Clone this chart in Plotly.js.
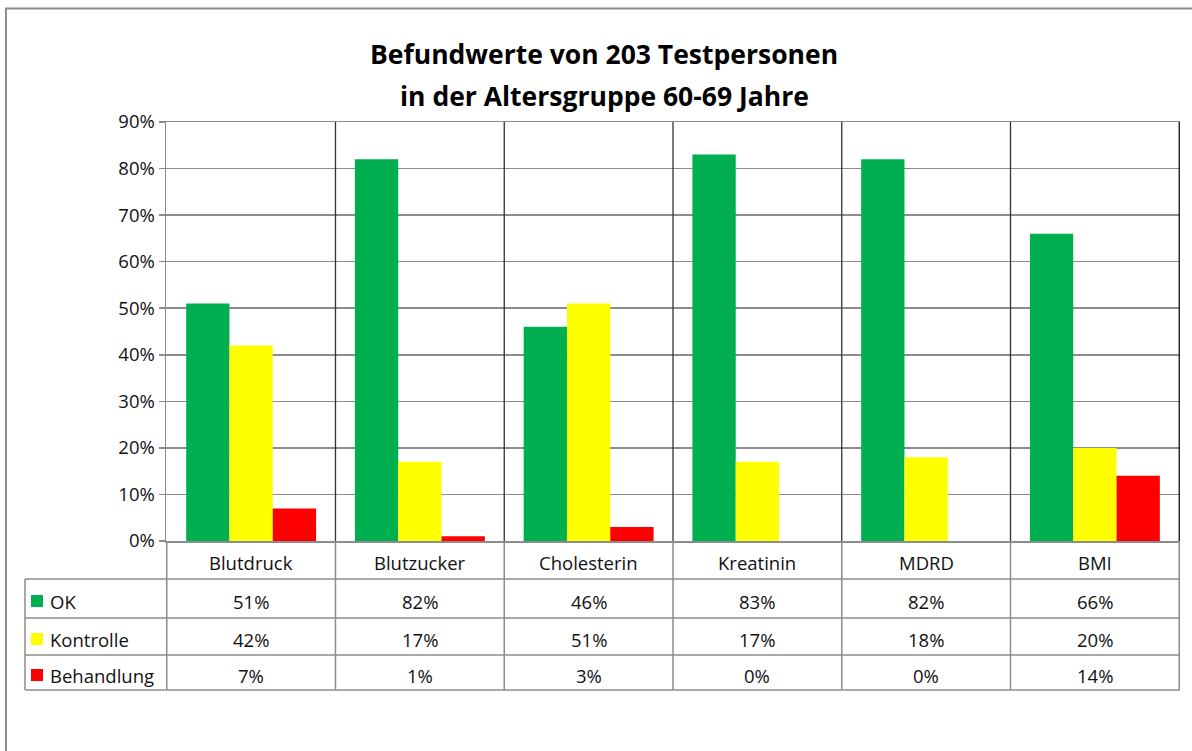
<!DOCTYPE html>
<html>
<head>
<meta charset="utf-8">
<script src="https://cdn.plot.ly/plotly-3.0.1.min.js"></script>
<style>
  html, body { margin: 0; padding: 0; background: #fff; }
  #chart { width: 1192px; height: 751px; }
</style>
</head>
<body>
<div id="chart"></div>
<script>
var categories = ['Blutdruck', 'Blutzucker', 'Cholesterin', 'Kreatinin', 'MDRD', 'BMI'];
var okValues = [51, 82, 46, 83, 82, 66];
var kontrolleValues = [42, 17, 51, 17, 18, 20];
var behandlungValues = [7, 1, 3, 0, 0, 14];
var seriesNames = ['OK', 'Kontrolle', 'Behandlung'];
var seriesColors = ['#00B050', '#FFFF00', '#FF0000'];
var titleLines = ['Befundwerte von 203 Testpersonen', 'in der Altersgruppe 60-69 Jahre'];

var W = 1192, H = 751;
var plotLeft = 166, plotRight = 1180, plotTop = 122, plotBottom = 541;
var gray = '#8c8c8c';
var font = 'Open Sans, Liberation Sans, sans-serif';
var textSize = 18.5;

// pixel -> paper helpers
function px(x) { return (x - plotLeft) / (plotRight - plotLeft); }
function py(y) { return (plotBottom - y) / (plotBottom - plotTop); }

var allValues = [okValues, kontrolleValues, behandlungValues];

var data = allValues.map(function (vals, i) {
    return {
        type: 'bar',
        name: seriesNames[i],
        x: categories,
        y: vals,
        marker: {color: seriesColors[i], line: {width: 0}},
        hoverinfo: 'x+y+name'
    };
});

var shapes = [];
var annotations = [];

// outer chart border (right/bottom edges run off the page)
shapes.push({type: 'rect', xref: 'paper', yref: 'paper',
    x0: px(6), x1: px(1300), y0: py(8.5), y1: py(800),
    line: {color: gray, width: 2}});

// category separators in the plot area
for (var i = 1; i <= categories.length; i++) {
    shapes.push({type: 'line', xref: 'x', yref: 'paper',
        x0: i - 0.5, x1: i - 0.5, y0: 0, y1: 1,
        line: {color: i == categories.length ? '#111' : '#333', width: 1.3}});
}

// data table grid
var rowLines = [579, 618, 655, 690];
for (var i = 0; i <= categories.length; i++) {
    shapes.push({type: 'line', xref: 'x', yref: 'paper',
        x0: i - 0.5, x1: i - 0.5, y0: py(541), y1: py(690),
        line: {color: gray, width: 1.5}});
}
rowLines.forEach(function (y) {
    shapes.push({type: 'line', xref: 'paper', yref: 'paper',
        x0: px(25), x1: 1, y0: py(y), y1: py(y),
        line: {color: gray, width: 1.5}});
});
shapes.push({type: 'line', xref: 'paper', yref: 'paper',
    x0: px(25), x1: px(25), y0: py(579), y1: py(690),
    line: {color: gray, width: 1.5}});

// header row: category names
categories.forEach(function (c) {
    annotations.push({xref: 'x', yref: 'paper', x: c, y: py(562),
        text: c, showarrow: false, xanchor: 'center', yanchor: 'middle',
        font: {family: font, size: textSize, color: '#111'}});
});

// value rows with legend keys
var rowCenters = [601, 639, 675];
allValues.forEach(function (vals, r) {
    var yc = rowCenters[r];
    shapes.push({type: 'rect', xref: 'paper', yref: 'paper',
        x0: px(31), x1: px(43), y0: py(yc - 6), y1: py(yc + 6),
        fillcolor: seriesColors[r], line: {width: 0}});
    annotations.push({xref: 'paper', yref: 'paper', x: px(48), y: py(yc),
        text: seriesNames[r], showarrow: false, xanchor: 'left', yanchor: 'middle',
        font: {family: font, size: textSize, color: '#111'}});
    vals.forEach(function (v, k) {
        annotations.push({xref: 'x', yref: 'paper', x: categories[k], y: py(yc),
            text: v + '%', showarrow: false, xanchor: 'center', yanchor: 'middle',
            font: {family: font, size: textSize, color: '#111'}});
    });
});

// two-line chart title
annotations.push({xref: 'paper', yref: 'paper', x: px(604), y: py(54),
    text: '<b>' + titleLines[0] + '</b>', showarrow: false, xanchor: 'center', yanchor: 'middle',
    font: {family: font, size: 26.5, color: '#000'}});
annotations.push({xref: 'paper', yref: 'paper', x: px(604), y: py(96),
    text: '<b>' + titleLines[1] + '</b>', showarrow: false, xanchor: 'center', yanchor: 'middle',
    font: {family: font, size: 26.5, color: '#000'}});

var layout = {
    width: W,
    height: H,
    margin: {l: plotLeft, r: W - plotRight, t: plotTop, b: H - plotBottom, pad: 0},
    paper_bgcolor: '#fff',
    plot_bgcolor: '#fff',
    showlegend: false,
    barmode: 'group',
    bargap: 0.23,
    bargroupgap: 0,
    xaxis: {
        type: 'category',
        showticklabels: false,
        ticks: '',
        showgrid: false,
        zeroline: false,
        showline: true,
        linecolor: gray,
        linewidth: 1.5,
        mirror: true
    },
    yaxis: {
        range: [0, 90],
        dtick: 10,
        ticksuffix: '%',
        ticks: 'outside',
        ticklen: 6,
        tickcolor: gray,
        tickwidth: 1.5,
        gridcolor: gray,
        gridwidth: 1.5,
        zeroline: false,
        showline: true,
        linecolor: gray,
        linewidth: 1.5,
        tickfont: {family: font, size: textSize, color: '#111'}
    },
    shapes: shapes,
    annotations: annotations
};

Plotly.newPlot('chart', data, layout, {displayModeBar: false, staticPlot: true});
</script>
</body>
</html>
